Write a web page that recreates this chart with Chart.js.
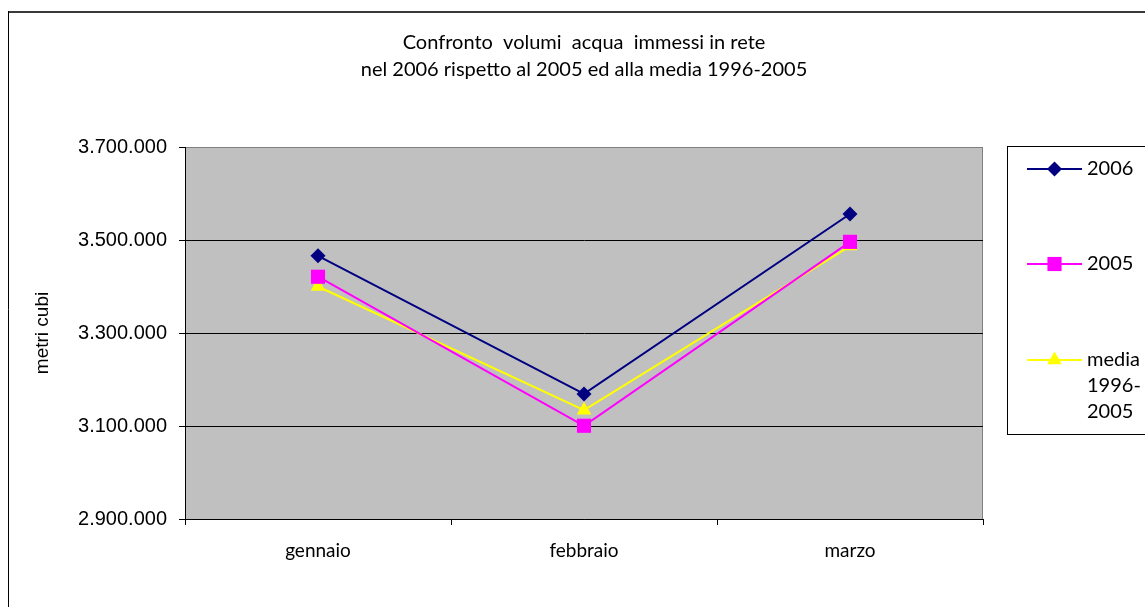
<!DOCTYPE html>
<html>
<head>
<meta charset="utf-8">
<script src="https://cdn.jsdelivr.net/npm/chart.js@4.4.1/dist/chart.umd.min.js"></script>
<style>
  html, body { margin: 0; padding: 0; background: #ffffff; }
  #wrap { position: relative; width: 1145px; height: 607px; }
</style>
</head>
<body>
<div id="wrap"><canvas id="c" width="1145" height="607"></canvas></div>
<script>
// ---- data ----
const categories = ['gennaio', 'febbraio', 'marzo'];
const series2006 = [3466000, 3169000, 3556000];
const series2005 = [3421000, 3100500, 3496000];
const seriesMedia = [3400000, 3134000, 3487000];
const seriesLabels = ['2006', '2005', 'media 1996-2005'];
const legendLines = [['2006'], ['2005'], ['media', '1996-', '2005']];
const titleLines = ['Confronto  volumi  acqua  immessi in rete', 'nel 2006 rispetto al 2005 ed alla media 1996-2005'];
const yAxisTitle = 'metri cubi';
const yMin = 2900000, yMax = 3700000, yStep = 200000;

const TXT_FONT = 'Lato, "Open Sans", sans-serif';
const NUM_FONT = '"Liberation Sans", Arial, sans-serif';

function fmt(v) {
  return String(Math.round(v)).replace(/\B(?=(\d{3})+(?!\d))/g, '.');
}

function drawMarker(ctx, style, x, y, r, color) {
  ctx.save();
  ctx.fillStyle = color;
  ctx.beginPath();
  if (style === 'rectRot') {
    ctx.moveTo(x, y - r); ctx.lineTo(x + r, y); ctx.lineTo(x, y + r); ctx.lineTo(x - r, y);
  } else if (style === 'rect') {
    const s = Math.SQRT1_2 * r;
    ctx.rect(x - s, y - s, 2 * s, 2 * s);
  } else if (style === 'triangle') {
    ctx.moveTo(x, y - r);
    ctx.lineTo(x + r * Math.sin(Math.PI / 3), y + r * 0.5);
    ctx.lineTo(x - r * Math.sin(Math.PI / 3), y + r * 0.5);
  }
  ctx.closePath();
  ctx.fill();
  ctx.restore();
}

const decorPlugin = {
  id: 'decor',
  beforeDraw(chart) {
    const { ctx, chartArea: a } = chart;
    ctx.save();
    ctx.fillStyle = '#ffffff';
    ctx.fillRect(0, 0, chart.width, chart.height);
    // outer frame
    ctx.strokeStyle = '#3a3a3a';
    ctx.lineWidth = 2;
    ctx.beginPath(); ctx.moveTo(8, 12); ctx.lineTo(chart.width + 2, 12); ctx.stroke();
    ctx.strokeStyle = '#000000';
    ctx.lineWidth = 1;
    ctx.beginPath(); ctx.moveTo(8.5, 11); ctx.lineTo(8.5, chart.height + 2); ctx.stroke();
    // plot area
    ctx.fillStyle = '#c0c0c0';
    ctx.fillRect(a.left, a.top, a.right - a.left, a.bottom - a.top);
    ctx.strokeStyle = '#808080';
    ctx.lineWidth = 1;
    ctx.beginPath();
    ctx.moveTo(a.left, a.top + 0.5); ctx.lineTo(a.right - 0.5, a.top + 0.5); ctx.lineTo(a.right - 0.5, a.bottom);
    ctx.stroke();
    ctx.restore();
  },
  afterDraw(chart) {
    const { ctx } = chart;
    ctx.save();
    // legend box
    ctx.strokeStyle = '#000000';
    ctx.lineWidth = 1;
    ctx.strokeRect(1007.5, 146.5, 200, 288);
    const ys = [169, 264, 360];
    chart.data.datasets.forEach((ds, i) => {
      const y = ys[i];
      ctx.strokeStyle = ds.borderColor;
      ctx.lineWidth = 2;
      ctx.beginPath(); ctx.moveTo(1027, y); ctx.lineTo(1082, y); ctx.stroke();
      drawMarker(ctx, ds.pointStyle, 1054.5, y, ds.pointRadius, ds.pointBackgroundColor);
      ctx.fillStyle = '#000000';
      ctx.font = '20px ' + TXT_FONT;
      ctx.textBaseline = 'middle';
      ctx.textAlign = 'left';
      legendLines[i].forEach((t, k) => ctx.fillText(t, 1087, y + k * 26));
    });
    ctx.restore();
  }
};

const ctx = document.getElementById('c').getContext('2d');
new Chart(ctx, {
  type: 'line',
  data: {
    labels: categories,
    datasets: [
      { label: seriesLabels[0], data: series2006, borderColor: '#000080', backgroundColor: '#000080',
        pointBackgroundColor: '#000080', pointBorderColor: '#000080', pointStyle: 'rectRot', pointRadius: 7.5, borderWidth: 2, pointBorderWidth: 0 },
      { label: seriesLabels[1], data: series2005, borderColor: '#ff00ff', backgroundColor: '#ff00ff',
        pointBackgroundColor: '#ff00ff', pointBorderColor: '#ff00ff', pointStyle: 'rect', pointRadius: 10, borderWidth: 2, pointBorderWidth: 0 },
      { label: seriesLabels[2], data: seriesMedia, borderColor: '#ffff00', backgroundColor: '#ffff00',
        pointBackgroundColor: '#ffff00', pointBorderColor: '#ffff00', pointStyle: 'triangle', pointRadius: 8.5, borderWidth: 2, pointBorderWidth: 0 }
    ]
  },
  options: {
    responsive: false,
    animation: false,
    devicePixelRatio: 1,
    layout: { padding: { left: 0, top: 0, right: 162, bottom: 0 } },
    plugins: {
      legend: { display: false },
      tooltip: { enabled: false },
      title: {
        display: true,
        text: titleLines,
        fullSize: false,
        color: '#000000',
        font: { family: TXT_FONT, size: 20, weight: 'normal', lineHeight: '27px' },
        padding: { top: 29.5, bottom: 63.5 }
      }
    },
    scales: {
      x: {
        offset: true,
        afterFit(scale) { scale.height = 88; },
        grid: { offset: true, drawOnChartArea: false, drawTicks: true, tickLength: 6, color: '#000000', lineWidth: 1 },
        border: { display: true, color: '#000000', width: 1 },
        ticks: { color: '#000000', font: { family: TXT_FONT, size: 19 }, padding: 14, maxRotation: 0 }
      },
      y: {
        min: yMin, max: yMax,
        afterFit(scale) { scale.width = 185; },
        grid: {
          color: (c) => (c.tick && c.tick.value === yMax) ? '#808080' : '#000000',
          tickColor: '#000000',
          lineWidth: 1, tickLength: 6, drawTicks: true
        },
        border: { display: true, color: '#000000', width: 1 },
        ticks: { stepSize: yStep, color: '#000000', padding: 12, font: { family: NUM_FONT, size: 20 }, callback: (v) => fmt(v) },
        title: { display: true, text: yAxisTitle, color: '#000000', font: { family: NUM_FONT, size: 19 }, padding: { top: 31, bottom: 0 } }
      }
    }
  },
  plugins: [decorPlugin]
});
</script>
</body>
</html>
